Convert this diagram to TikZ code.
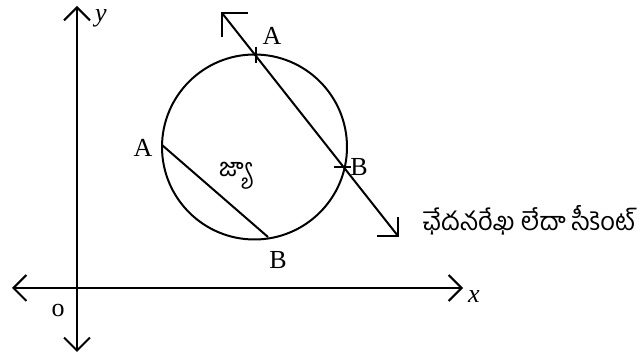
\documentclass[tikz,border=0pt]{standalone}
\usepackage{fontspec}
\setmainfont{Liberation Serif}
\newfontfamily\telugu[Script=Telugu]{Hind Guntur}
\usetikzlibrary{arrows.meta,calc}
\begin{document}
\begin{tikzpicture}[x=1pt,y=-1pt,line width=2pt,line join=miter,
  dbarb/.style={{Straight Barb[length=13pt,width=26pt,line join=miter]}-{Straight Barb[length=13pt,width=26pt,line join=miter]}},
  lbl/.style={font=\fontsize{26}{28}\selectfont,inner sep=0pt},
  ilbl/.style={font=\fontsize{26}{28}\selectfont\itshape,inner sep=0pt},
  tel/.style={font=\telugu\fontsize{25.5}{28}\selectfont,inner sep=0pt}]
\useasboundingbox (0,0) rectangle (641,358);
% axes
\coordinate (ytop) at (77,6);
\coordinate (ybot) at (77,352);
\coordinate (xl) at (12,288);
\coordinate (xr) at (463,288);
\draw[dbarb] (ybot) -- (ytop);
\draw[dbarb] (xl) -- (xr);
\node[ilbl] (ylab) at (101,18) {y};
\node[ilbl] (xlab) at (474,297) {x};
\node[lbl] (olab) at (58,311) {o};
% circle
\node[draw,circle,minimum size=185pt,inner sep=0pt,outer sep=0pt] (circ) at (254.5,147) {};
% secant
\coordinate (s1) at (222,13);
\coordinate (s2) at (398,236);
\coordinate (sA) at (256,55);
\coordinate (sB) at (343,167);
\draw (s1) -- (s2);
\draw ($(s1)+(26,0)$) -- (s1) -- ($(s1)+(0,24)$);
\draw ($(s2)+(-21,0)$) -- (s2) -- ($(s2)+(0,-19)$);
\draw ($(sA)+(0,-8)$) -- ($(sA)+(0,8)$);
\draw ($(sB)+(-9,0)$) -- ($(sB)+(8,0)$);
\node[lbl] (lA1) at (272,36) {A};
\node[lbl] (lB1) at (359,167) {B};
% chord
\coordinate (cA) at (162,145);
\coordinate (cB) at (268,237);
\draw (cA) -- (cB);
\node[lbl] (lA2) at (143,148) {A};
\node[lbl] (lB2) at (278,260) {B};
\node[tel] (chord) at (235,176) {జ్యా};
\node[tel] (seclab) at (529,220) {ఛేదనరేఖ లేదా సీకెంట్};
\end{tikzpicture}
\end{document}
